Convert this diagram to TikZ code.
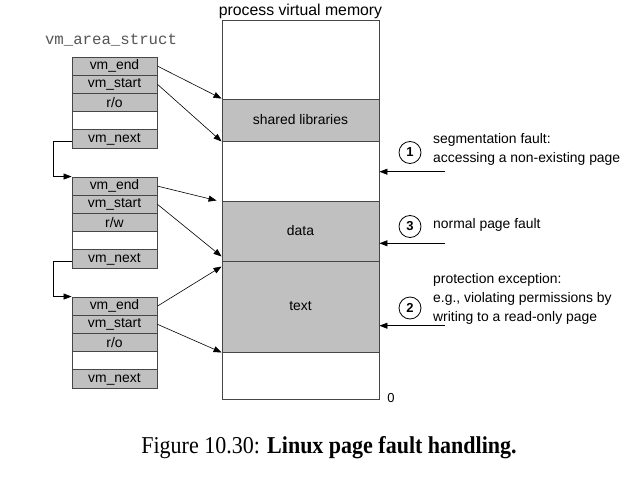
\documentclass[tikz,border=0pt]{standalone}
\usepackage{fontspec}
\setmainfont{Liberation Serif}
\setsansfont{Liberation Sans}
\setmonofont{Liberation Mono}
\usetikzlibrary{arrows.meta,calc}
\definecolor{boxgray}{RGB}{192,192,192}
\definecolor{linegray}{RGB}{70,70,70}
\definecolor{labgray}{RGB}{85,85,85}
\begin{document}
\begin{tikzpicture}[x=1bp,y=-1bp,
  rowbox/.style={draw=linegray, line width=0.9bp, fill=boxgray, minimum width=85bp, minimum height=18.2bp, inner sep=0pt, font=\sffamily\fontsize{13.9bp}{15bp}\selectfont},
  emptyrow/.style={rowbox, fill=white},
  region/.style={draw=linegray, line width=0.9bp, fill=boxgray, minimum width=157bp, inner sep=0pt, font=\sffamily\fontsize{13.9bp}{15bp}\selectfont},
  ptr/.style={line width=0.6bp, -{Triangle[length=8bp,width=6bp]}},
  num/.style={draw, line width=0.8bp, circle, minimum size=22bp, inner sep=0pt, font=\sffamily\bfseries\fontsize{13bp}{15bp}\selectfont},
  note/.style={anchor=west, align=left, inner sep=0pt, font=\sffamily\fontsize{13.9bp}{19bp}\selectfont}
]
\useasboundingbox (0,0) rectangle (636,484);

% title
\node[font=\sffamily\fontsize{15.8bp}{18bp}\selectfont] (title) at (300.5,11) {process virtual memory};
\node[font=\ttfamily\fontsize{15.7bp}{18bp}\selectfont, text=labgray] (vmlab) at (111,40) {vm\_area\_struct};

% memory column
\node[draw=linegray, line width=0.9bp, fill=white, minimum width=157bp, minimum height=379bp, inner sep=0pt] (mem) at (300.5,209.5) {};
\node[region, minimum height=42bp] (shared) at (300.5,120) {shared libraries};
\node[region, minimum height=60bp] (data) at (300.5,231) {data};
\node[region, minimum height=91bp] (text) at (300.5,306.5) {text};
\node[font=\sffamily\fontsize{13bp}{15bp}\selectfont] (zero) at (391,398) {0};

% structs
\foreach \k/\ty/\perm in {1/57/{r/o}, 2/177/{r/w}, 3/297/{r/o}} {
  \node[rowbox] (s\k-e) at (114.5,\ty+9.1) {vm\_end};
  \node[rowbox] (s\k-s) at (114.5,\ty+27.3) {vm\_start};
  \node[rowbox] (s\k-p) at (114.5,\ty+45.5) {\perm};
  \node[emptyrow] (s\k-b) at (114.5,\ty+63.7) {};
  \node[rowbox] (s\k-n) at (114.5,\ty+81.9) {vm\_next};
}

% pointers to regions
\draw[ptr] (s1-e.east) -- (shared.north west);
\draw[ptr] (s1-s.east) -- (shared.south west);
\draw[ptr] (s2-e.east) -- ([xshift=-5bp]data.north west);
\draw[ptr] (s2-s.east) -- ([yshift=5bp]data.south west);
\draw[ptr] (s3-e.east) -- ([yshift=-6bp]text.north west);
\draw[ptr] (s3-s.east) -- (text.south west);

% next links
\draw[ptr] ([yshift=-2bp]s1-n.west) -- ++(-18,0) |- (s2-e.north west);
\draw[ptr] ([yshift=-2bp]s2-n.west) -- ++(-18,0) |- (s3-e.north west);

% faults
\node[num] (c1) at (410,152.5) {1};
\node[note] (t1) at (433,149.5) {segmentation fault:\\accessing a non-existing page};
\coordinate (a1) at (445,171.7);
\draw[ptr] (a1) -- (a1 -| mem.east);

\node[num] (c3) at (410,226.5) {3};
\node[note] (t3) at (433,225) {normal page fault};
\coordinate (a3) at (445,243.3);
\draw[ptr] (a3) -- (a3 -| mem.east);

\node[num] (c2) at (410,308) {2};
\node[note] (t2) at (433,299) {protection exception:\\e.g., violating permissions by\\writing to a read-only page};
\coordinate (a2) at (445,325.7);
\draw[ptr] (a2) -- (a2 -| mem.east);

% caption
\node[font=\fontsize{22bp}{24bp}\selectfont, yscale=1.1] (cap) at (329,448) {Figure 10.30: \textbf{Linux page fault handling.}};
\end{tikzpicture}
\end{document}
